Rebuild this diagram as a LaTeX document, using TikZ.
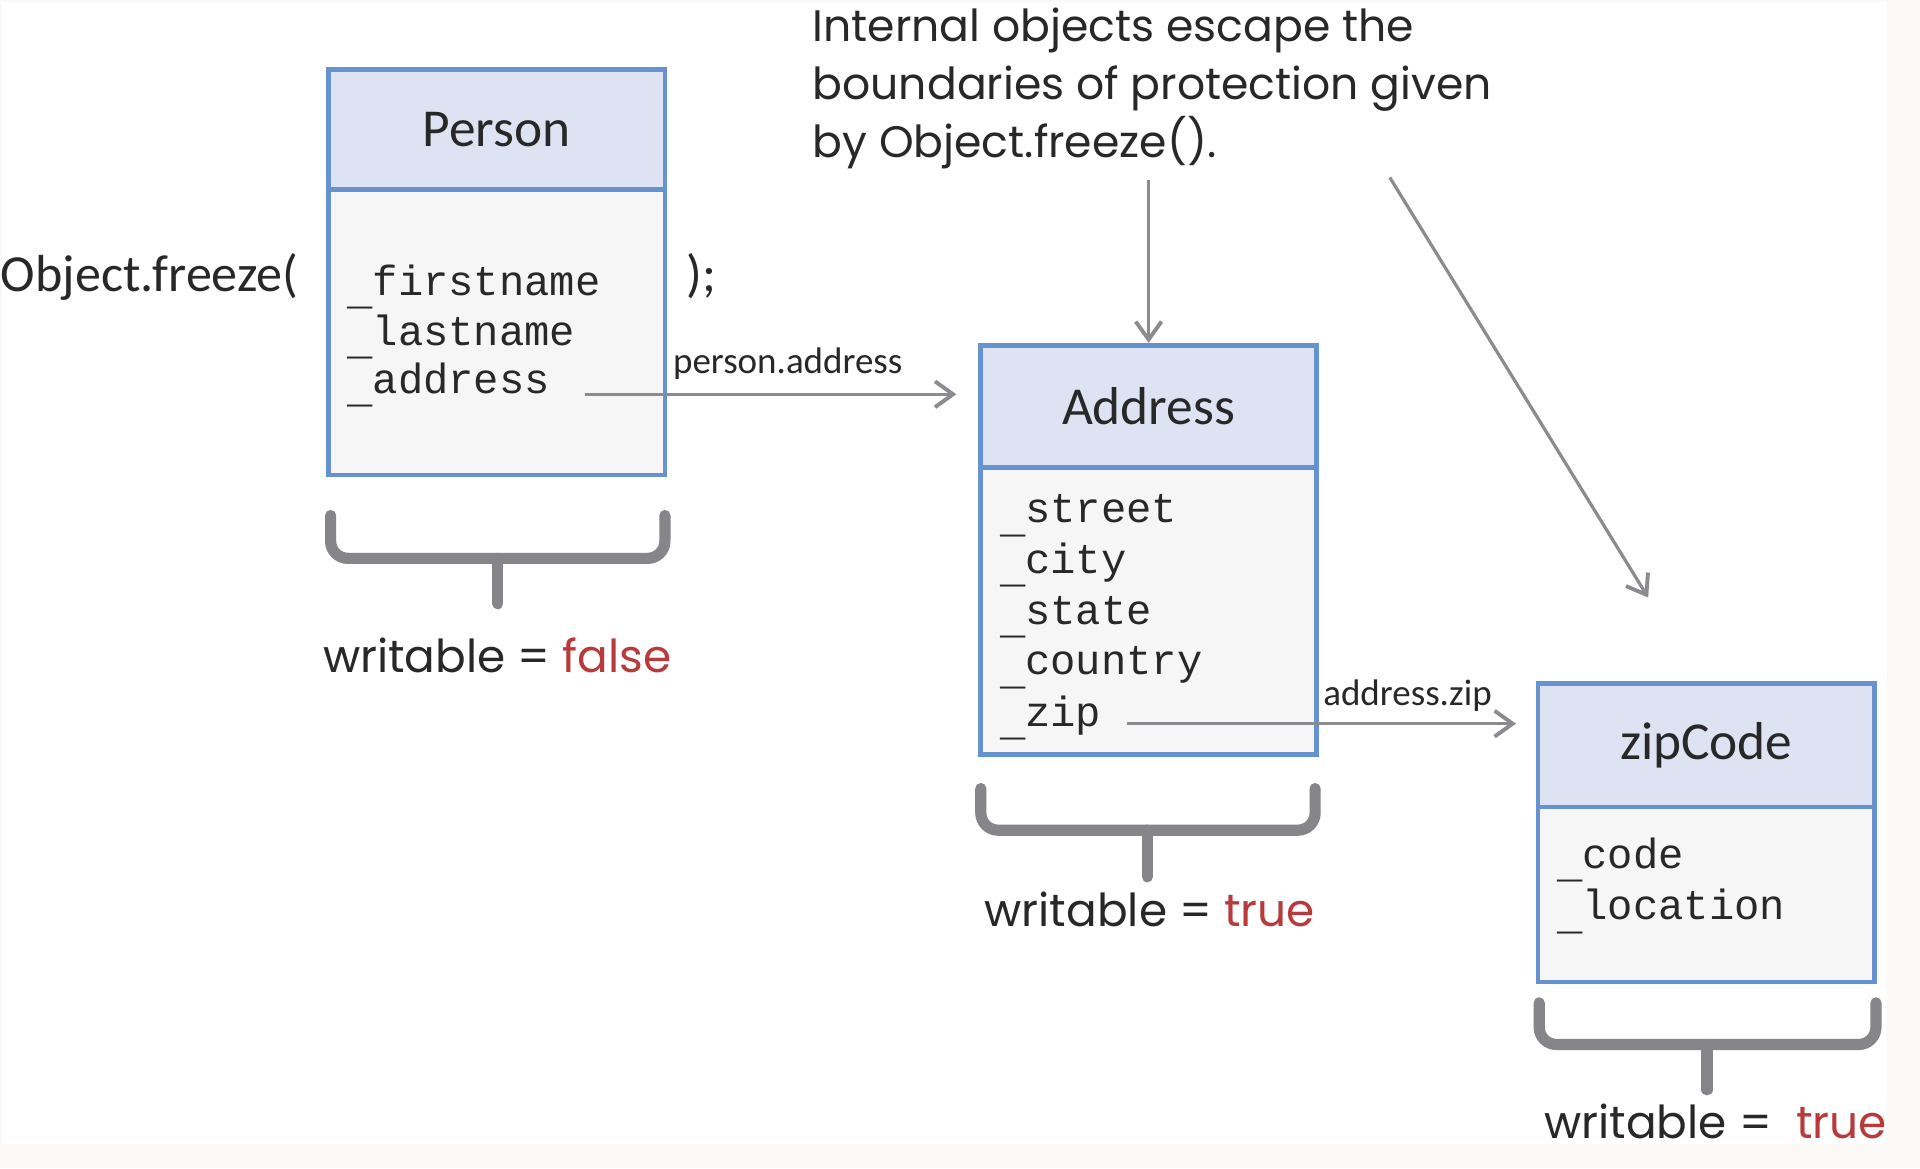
\documentclass[tikz,border=0pt]{standalone}
\usepackage{fontspec}
\setmainfont{Carlito}
\newfontfamily\notefont{Poppins}
\setmonofont{Liberation Mono}
\usetikzlibrary{arrows.meta}
\definecolor{boxblue}{RGB}{102,146,208}
\definecolor{hdrfill}{RGB}{221,227,243}
\definecolor{bodyfill}{RGB}{246,246,246}
\definecolor{txt}{RGB}{40,40,40}
\definecolor{arrgray}{RGB}{140,140,144}
\definecolor{bracegray}{RGB}{133,133,138}
\definecolor{redtxt}{RGB}{184,58,58}
\definecolor{bgc}{RGB}{250,249,245}
\newcommand{\usc}{\raisebox{-2.2pt}{\_}}
\begin{document}
\begin{tikzpicture}[
  hdr/.style={draw=boxblue, line width=1.1pt, fill=hdrfill, minimum width=2.75cm, text=txt, font=\fontsize{12.4}{14}\selectfont, inner sep=0pt},
  bodybox/.style={draw=boxblue, line width=1.1pt, fill=bodyfill, minimum width=2.75cm, inner sep=0pt},
  fld/.style={anchor=base west, inner sep=0pt, text=txt, font=\fontsize{9.8}{11}\ttfamily},
  lbl/.style={anchor=base west, inner sep=0pt, text=txt, font=\fontsize{8.6}{10}\selectfont},
  plain/.style={anchor=base west, inner sep=0pt, text=txt, font=\fontsize{12.1}{14}\selectfont},
  arr/.style={draw=arrgray, line width=0.75pt, -{Straight Barb[length=4.2pt, width=6pt, line width=0.9pt]}},
  bracket/.style={draw=bracegray, line width=2.6pt, rounded corners=4pt, line cap=round},
  wr/.style={anchor=base, inner sep=0pt, text=txt, font=\notefont\fontsize{10.55}{13}\selectfont},
  note/.style={anchor=north west, inner sep=0pt, text=txt, align=left, font=\notefont\fontsize{10.25}{13.4}\selectfont},
]
\useasboundingbox (0,0) rectangle (15.68,-9.54);
\fill[bgc] (0,0) rectangle (15.68,-9.54);
\fill[white] (0.02,-0.015) rectangle (15.41,-9.34);

% Person
\node[hdr, minimum height=0.98cm] (personH) at (4.055,-1.06) {Person};
\node[bodybox, minimum height=2.33cm] (personB) at (4.055,-2.715) {};
\node[fld] (pf1) at (2.83,-2.41) {\usc firstname};
\node[fld] (pf2) at (2.83,-2.82) {\usc lastname};
\node[fld] (pf3) at (2.83,-3.21) {\usc address};
\node[plain] (freeze) at (0.0,-2.38) {Object.freeze(};
\node[plain] (close) at (5.60,-2.38) {);};

% Address
\node[hdr, minimum width=2.74cm, minimum height=1.00cm] (addrH) at (9.38,-3.32) {Address};
\node[bodybox, minimum width=2.74cm, minimum height=2.34cm] (addrB) at (9.38,-4.99) {};
\node[fld] (af1) at (8.16,-4.27) {\usc street};
\node[fld] (af2) at (8.16,-4.68) {\usc city};
\node[fld] (af3) at (8.16,-5.10) {\usc state};
\node[fld] (af4) at (8.16,-5.51) {\usc country};
\node[fld] (af5) at (8.16,-5.93) {\usc zip};

% zipCode
\node[hdr, minimum height=1.01cm] (zipH) at (13.935,-6.085) {zipCode};
\node[bodybox, minimum height=1.43cm] (zipB) at (13.935,-7.305) {};
\node[fld] (zf1) at (12.71,-7.09) {\usc code};
\node[fld] (zf2) at (12.71,-7.51) {\usc location};

% note
\node[note] (note) at (6.63,-0.06) {Internal objects escape the\\boundaries of protection given\\by Object.freeze().};
\coordinate (n1) at (9.38,-1.47);
\coordinate (n2) at (11.35,-1.45);
\coordinate (n2end) at (13.46,-4.88);
\draw[arr] (n1) -- (addrH.north);
\draw[arr] (n2) -- (n2end);

% references
\coordinate (pa) at (4.78,-3.22);
\draw[arr] (pa) -- ([xshift=-0.18cm]addrH.west |- pa);
\node[lbl] (palbl) at (5.49,-3.05) {person.address};
\coordinate (za) at (9.20,-5.91);
\draw[arr] (za) -- ([xshift=-0.16cm]zipH.west |- za);
\node[lbl] (zalbl) at (10.80,-5.76) {address.zip};

% brackets
\draw[bracket] (2.70,-4.21) -- (2.70,-4.56) -- (5.43,-4.56) -- (5.43,-4.21);
\draw[bracket, rounded corners=0pt] (4.065,-4.56) -- (4.065,-4.93);
\node[wr] (w1) at (4.06,-5.49) {writable = \textcolor{redtxt}{false}};

\draw[bracket] (8.01,-6.44) -- (8.01,-6.78) -- (10.74,-6.78) -- (10.74,-6.44);
\draw[bracket, rounded corners=0pt] (9.37,-6.78) -- (9.37,-7.16);
\node[wr] (w2) at (9.39,-7.57) {writable = \textcolor{redtxt}{true}};

\draw[bracket] (12.57,-8.19) -- (12.57,-8.53) -- (15.32,-8.53) -- (15.32,-8.19);
\draw[bracket, rounded corners=0pt] (13.94,-8.53) -- (13.94,-8.90);
\node[wr] (w3) at (14.01,-9.30) {writable =\ \ \textcolor{redtxt}{true}};
\end{tikzpicture}
\end{document}
